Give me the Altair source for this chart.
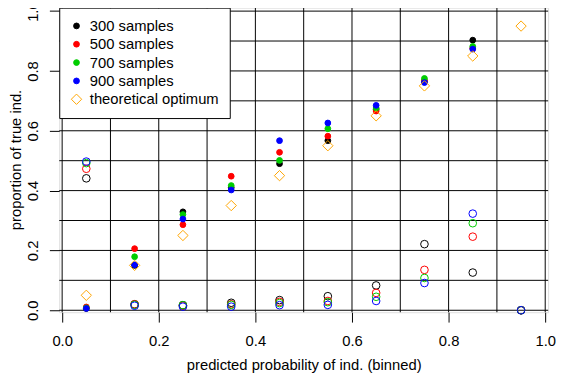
import altair as alt
import pandas as pd

# ---- data ----
bins = [0.05, 0.15, 0.25, 0.35, 0.45, 0.55, 0.65, 0.75, 0.85, 0.95]
series = ["300 samples", "500 samples", "700 samples", "900 samples"]
optimum_label = "theoretical optimum"

# proportion of true ind. (filled points); None = not drawn
filled_300 = [0.006, 0.150, 0.329, 0.410, 0.490, 0.567, 0.672, 0.765, 0.903, None]
filled_500 = [0.011, 0.206, 0.286, 0.448, 0.528, 0.582, 0.666, 0.768, 0.876, None]
filled_700 = [0.008, 0.179, 0.320, 0.417, 0.501, 0.607, 0.676, 0.775, 0.882, None]
filled_900 = [0.006, 0.152, 0.305, 0.402, 0.567, 0.626, 0.685, 0.761, 0.873, None]

# open circles (same colours, second measure)
open_300 = [0.441, 0.020, 0.017, 0.025, 0.034, 0.047, 0.083, 0.221, 0.126, 0.0]
open_500 = [0.473, 0.020, 0.015, 0.020, 0.028, 0.031, 0.058, 0.135, 0.246, 0.0]
open_700 = [0.492, 0.018, 0.017, 0.018, 0.024, 0.027, 0.045, 0.108, 0.291, 0.0]
open_900 = [0.497, 0.015, 0.012, 0.012, 0.017, 0.018, 0.031, 0.091, 0.323, 0.0]

optimum = [0.05, 0.15, 0.25, 0.35, 0.45, 0.55, 0.65, 0.75, 0.85, 0.95]

grid_vals = [0.0, 0.1, 0.2, 0.3, 0.4, 0.5, 0.6, 0.7, 0.8, 0.9, 1.0]
tick_vals = [0.0, 0.2, 0.4, 0.6, 0.8, 1.0]

# ---- tables ----
rows = []
for name, vals in zip(series, [filled_300, filled_500, filled_700, filled_900]):
    for b, v in zip(bins, vals):
        if v is not None:
            rows.append({"bin": b, "value": v, "series": name})
for b, v in zip(bins, optimum):
    rows.append({"bin": b, "value": v, "series": optimum_label})
main_df = pd.DataFrame(rows)

orows = []
for name, vals in zip(series, [open_300, open_500, open_700, open_900]):
    for b, v in zip(bins, vals):
        orows.append({"bin": b, "value": v, "grp": name})
open_df = pd.DataFrame(orows)

grid_df = pd.DataFrame({"g": grid_vals})

domain = series + [optimum_label]
stroke_range = ["black", "#ff0000", "#00cd00", "#0000ff", "orange"]
fill_range = ["black", "#ff0000", "#00cd00", "#0000ff", "transparent"]
shape_range = ["circle", "circle", "circle", "circle", "diamond"]
size_range = [34, 34, 34, 34, 110]

xs = alt.Scale(domain=[-0.006, 1.006], nice=False, zero=False)
ys = alt.Scale(domain=[-0.0066, 1.0115], nice=False, zero=False)

FONT = "Liberation Sans"

x_axis = alt.Axis(
    title="predicted probability of ind. (binned)", values=tick_vals, format=".1f",
    grid=False, domain=False, ticks=True, tickSize=10, tickColor="black", tickWidth=1,
    labelFont=FONT, labelFontSize=15, labelColor="black", labelBaseline="alphabetic",
    labelPadding=24, labelFlush=False,
    titleFont=FONT, titleFontSize=15, titleFontWeight="normal", titleColor="black",
    titleBaseline="alphabetic", titleY=58, titleX=248,
)
y_axis = alt.Axis(
    title="proportion of true ind.", values=tick_vals, format=".1f",
    grid=False, domain=False, ticks=True, tickSize=10, tickColor="black", tickWidth=1,
    labelFont=FONT, labelFontSize=15, labelColor="black", labelAngle=270,
    labelAlign="center", labelBaseline="alphabetic", labelPadding=12, labelFlush=False,
    titleFont=FONT, titleFontSize=15, titleFontWeight="normal", titleColor="black",
    titleAngle=270, titleBaseline="alphabetic", titleX=-39, titleY=154,
)


def make_legend():
    return alt.Legend(
        title=None, orient="none", legendX=0, legendY=0,
        fillColor="white", strokeColor="black", padding=11, cornerRadius=0,
        labelFont=FONT, labelFontSize=15, labelColor="black", labelLimit=400,
        labelOffset=6, symbolOffset=-1, symbolStrokeWidth=1, rowPadding=2.6,
    )


vgrid = alt.Chart(grid_df).mark_rule(color="black", strokeWidth=1).encode(
    x=alt.X("g:Q", scale=xs, axis=x_axis)
)
hgrid = alt.Chart(grid_df).mark_rule(color="black", strokeWidth=1).encode(
    y=alt.Y("g:Q", scale=ys, axis=y_axis)
)

open_pts = alt.Chart(open_df).mark_point(shape="circle", filled=False, size=60, strokeWidth=1, opacity=1).encode(
    x=alt.X("bin:Q", scale=xs),
    y=alt.Y("value:Q", scale=ys),
    color=alt.Color("grp:N", scale=alt.Scale(domain=series, range=stroke_range[:4]), legend=None),
)

main_pts = alt.Chart(main_df).mark_point(strokeWidth=1, opacity=1, fillOpacity=1).encode(
    x=alt.X("bin:Q", scale=xs),
    y=alt.Y("value:Q", scale=ys),
    stroke=alt.Stroke("series:N", scale=alt.Scale(domain=domain, range=stroke_range), legend=make_legend()),
    fill=alt.Fill("series:N", scale=alt.Scale(domain=domain, range=fill_range), legend=make_legend()),
    shape=alt.Shape("series:N", scale=alt.Scale(domain=domain, range=shape_range), legend=make_legend()),
    size=alt.Size("series:N", scale=alt.Scale(type="ordinal", domain=domain, range=size_range), legend=make_legend()),
)

chart = alt.layer(vgrid, hgrid, open_pts, main_pts).properties(
    width=496, height=309,
    autosize=alt.AutoSizeParams(type="none"),
    padding={"left": 52, "top": -3, "right": 8, "bottom": 60},
).configure_view(
    stroke="black", strokeWidth=1, fill="white"
).configure(background="white")

chart.save("out.html", embed_options={"renderer": "svg", "actions": False})
